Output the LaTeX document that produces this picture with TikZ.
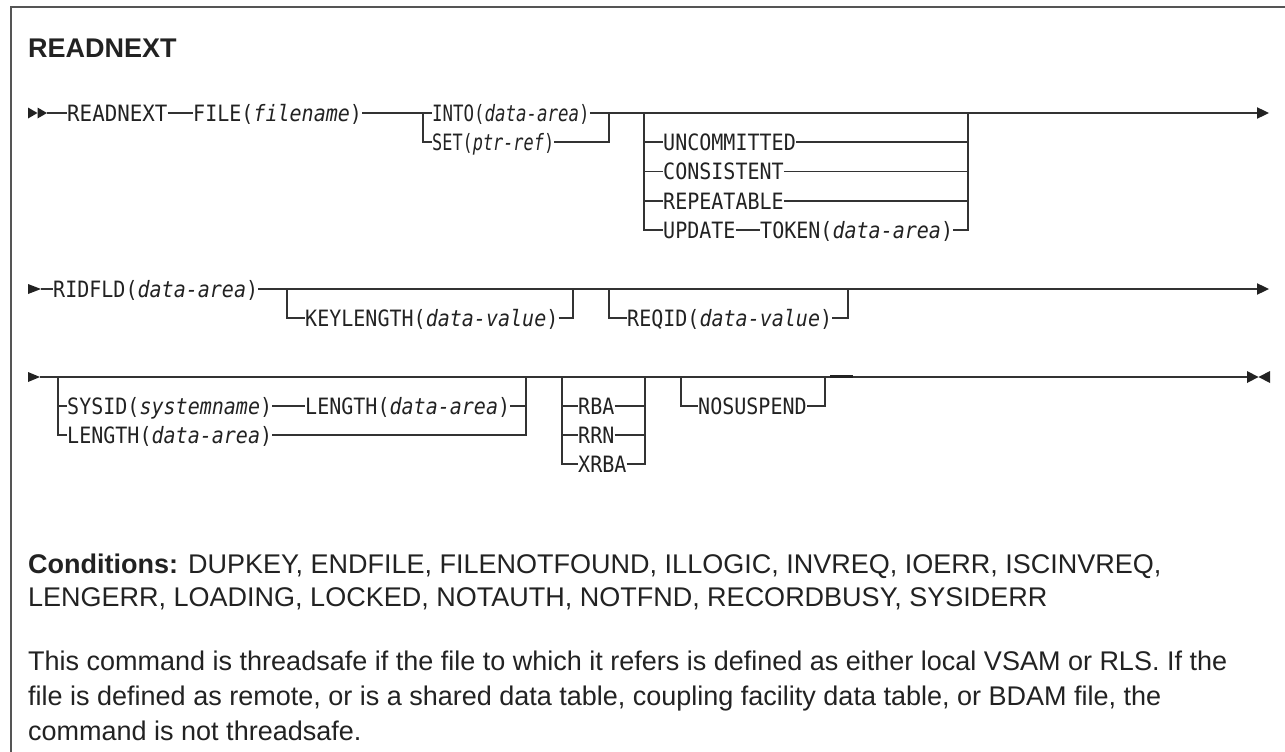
\documentclass[tikz,border=0pt]{standalone}
\usepackage{fontspec}
\setmainfont{Liberation Sans}
\newfontfamily\syn[FakeStretch=0.89,ItalicFont={DejaVu Sans Mono Oblique}]{DejaVu Sans Mono}
\newfontfamily\synwide[FakeStretch=0.925,ItalicFont={DejaVu Sans Mono Oblique}]{DejaVu Sans Mono}
\newfontfamily\synnarrow[FakeStretch=0.775,ItalicFont={DejaVu Sans Mono Oblique}]{DejaVu Sans Mono}
\newfontfamily\synnarrower[FakeStretch=0.75,ItalicFont={DejaVu Sans Mono Oblique}]{DejaVu Sans Mono}
\definecolor{linec}{HTML}{333333}
\definecolor{txtc}{HTML}{222222}
\definecolor{framec}{HTML}{555555}
\begin{document}
\begin{tikzpicture}[x=1pt,y=-1pt,
  rr/.style={line width=1.3pt, draw=linec},
  kw/.style={font=\syn\fontsize{22.5}{26}\selectfont, inner sep=0pt, anchor=base west,
    text=txtc, text height=21pt, text depth=4.6pt},
  kwwide/.style={kw, font=\synwide\fontsize{22.5}{26}\selectfont},
  kwnarrow/.style={kw, font=\synnarrow\fontsize{22.5}{26}\selectfont},
  kwnarrower/.style={kw, font=\synnarrower\fontsize{22.5}{26}\selectfont},
  ttl/.style={font=\bfseries\fontsize{27}{30}\selectfont, inner sep=0pt, anchor=base west, text=txtc},
  body/.style={font=\fontsize{27}{32}\selectfont, inner sep=0pt, anchor=base west, text=txtc},
  tip/.style={fill=txtc}]
\useasboundingbox (0,0) rectangle (1285,752);
\fill[white] (0,0) rectangle (1285,752);
\draw[framec, line width=2pt] (11,752) -- (11,7.5) -- (1285,7.5);

\node[ttl] (title) at (28,58) {READNEXT};

% ---------- row 1 ----------
\node[kwwide] (rn)   at (67,121.2)  {READNEXT};
\node[kw] (file) at (193,121.2) {FILE(\textit{filename})};
\node[kwnarrow] (into) at (432,121.2) {INTO(\textit{data-area})};
\node[kwnarrower] (set)  at (432,150.2) {SET(\textit{ptr-ref})};
\node[kw] (unc)  at (663,150.2) {UNCOMMITTED};
\node[kw] (cons) at (663,179.7) {CONSISTENT};
\node[kw] (rep)  at (663,209.2) {REPEATABLE};
\node[kw] (upd)  at (663,238.2) {UPDATE};
\node[kw] (tok)  at (760,238.2) {TOKEN(\textit{data-area})};

\coordinate (s1) at (47,113);
\coordinate (b1) at (423,113);
\coordinate (j1) at (609,113);
\coordinate (g2l) at (644,113);
\coordinate (g2r) at (968,113);
\coordinate (e1) at (1257,113);

\fill[tip] (28,107.5) -- (37.5,113) -- (28,118.5) -- cycle;
\fill[tip] (37.5,107.5) -- (47,113) -- (37.5,118.5) -- cycle;
\draw[rr] (s1) -- (rn.west);
\draw[rr] (rn.east) -- (file.west);
\draw[rr] (file.east) -- (into.west);
\draw[rr] (b1) |- (set.west);
\draw[rr] (into.east) -- (j1);
\draw[rr] (set.east) -| (j1);
\draw[rr] (j1) -- (e1);
\fill[tip] (e1) ++(0,-5.8) -- ++(12,5.8) -- ++(-12,5.8) -- cycle;
\draw[rr] (g2l) |- (upd.west);
\draw[rr] (g2l |- unc.west) -- (unc.west);
\draw[rr] (g2l |- cons.west) -- (cons.west);
\draw[rr] (g2l |- rep.west) -- (rep.west);
\draw[rr] (upd.east) -- (tok.west);
\draw[rr] (unc.east) -- (g2r |- unc.east);
\draw[rr] (cons.east) -- (g2r |- cons.east);
\draw[rr] (rep.east) -- (g2r |- rep.east);
\draw[rr] (tok.east) -| (g2r);

% ---------- row 2 ----------
\node[kw] (rid) at (53,297.2)  {RIDFLD(\textit{data-area})};
\node[kw] (kl)  at (305,326.2) {KEYLENGTH(\textit{data-value})};
\node[kw] (rq)  at (627,326.2) {REQID(\textit{data-value})};

\coordinate (s2) at (41,289);
\coordinate (k2l) at (287,289);
\coordinate (k2r) at (573,289);
\coordinate (q2l) at (609,289);
\coordinate (q2r) at (848,289);
\coordinate (e2) at (1257,289);

\fill[tip] (28,284) -- (41,289) -- (28,294) -- cycle;
\draw[rr] (s2) -- (rid.west);
\draw[rr] (rid.east) -- (e2);
\fill[tip] (e2) ++(0,-5.8) -- ++(12,5.8) -- ++(-12,5.8) -- cycle;
\draw[rr] (k2l) |- (kl.west);
\draw[rr] (kl.east) -| (k2r);
\draw[rr] (q2l) |- (rq.west);
\draw[rr] (rq.east) -| (q2r);

% ---------- row 3 ----------
\node[kw] (sys)  at (67,414.2)  {SYSID(\textit{systemname})};
\node[kw] (len1) at (305,414.2) {LENGTH(\textit{data-area})};
\node[kw] (len2) at (67,443.2)  {LENGTH(\textit{data-area})};
\node[kw] (rba)  at (578,414.2) {RBA};
\node[kw] (rrn)  at (578,443.2) {RRN};
\node[kw] (xrba) at (578,472.2) {XRBA};
\node[kw] (nos)  at (698,414.2) {NOSUSPEND};

\coordinate (s3) at (40,377);
\coordinate (a3l) at (58,377);
\coordinate (a3r) at (526,377);
\coordinate (r3l) at (562,377);
\coordinate (r3r) at (645,377);
\coordinate (n3l) at (681,377);
\coordinate (n3r) at (825,377);
\coordinate (e3) at (1247,377);

\fill[tip] (28,372) -- (40,377) -- (28,382) -- cycle;
\draw[rr] (s3) -- (e3);
\fill[tip] (e3) ++(0,-6) -- ++(11.5,6) -- ++(-11.5,6) -- cycle;
\fill[tip] (e3) ++(23,-6) -- ++(-11.5,6) -- ++(11.5,6) -- cycle;
\draw[rr] (a3l) |- (len2.west);
\draw[rr] (a3l |- sys.west) -- (sys.west);
\draw[rr] (sys.east) -- (len1.west);
\draw[rr] (len1.east) -- (a3r |- len1.east);
\draw[rr] (len2.east) -| (a3r);
\draw[rr] (r3l) |- (xrba.west);
\draw[rr] (r3l |- rba.west) -- (rba.west);
\draw[rr] (r3l |- rrn.west) -- (rrn.west);
\draw[rr] (rba.east) -- (r3r |- rba.east);
\draw[rr] (rrn.east) -- (r3r |- rrn.east);
\draw[rr] (xrba.east) -| (r3r);
\draw[rr] (n3l) |- (nos.west);
\draw[rr] (nos.east) -| (n3r);
\draw[line width=2.4pt, draw=txtc] (830,376.6) -- (853,376.6);

% ---------- text ----------
\node[body] (cond1) at (28,573) {\textbf{Conditions:} DUPKEY, ENDFILE, FILENOTFOUND, ILLOGIC, INVREQ, IOERR, ISCINVREQ,};
\node[body] (cond2) at (28,606) {LENGERR, LOADING, LOCKED, NOTAUTH, NOTFND, RECORDBUSY, SYSIDERR};
\node[body] (p1) at (28,670) {This command is threadsafe if the file to which it refers is defined as either local VSAM or RLS. If the};
\node[body] (p2) at (28,705) {file is defined as remote, or is a shared data table, coupling facility data table, or BDAM file, the};
\node[body] (p3) at (28,740) {command is not threadsafe.};
\end{tikzpicture}
\end{document}
